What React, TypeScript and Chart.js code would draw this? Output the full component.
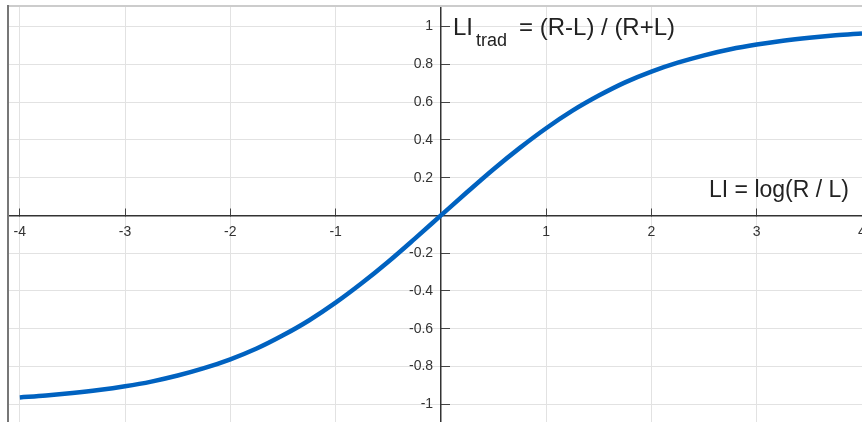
import React, { useEffect, useRef } from "react";
import { Chart, registerables } from "chart.js";

Chart.register(...registerables);

// LI = log(R/L) on the horizontal axis
const liValues = [
  -4, -3.75, -3.5, -3.25, -3, -2.75, -2.5, -2.25, -2, -1.75, -1.5, -1.25, -1, -0.75, -0.5, -0.25,
  0, 0.25, 0.5, 0.75, 1, 1.25, 1.5, 1.75, 2, 2.25, 2.5, 2.75, 3, 3.25, 3.5, 3.75, 4,
];
// LI_trad = (R-L)/(R+L)
const liTradValues = [
  -0.964, -0.954, -0.941, -0.925, -0.905, -0.88, -0.848, -0.809, -0.762, -0.705, -0.635, -0.555,
  -0.462, -0.358, -0.245, -0.124, 0, 0.124, 0.245, 0.358, 0.462, 0.555, 0.635, 0.705, 0.762, 0.809,
  0.848, 0.88, 0.905, 0.925, 0.941, 0.954, 0.964,
];

const xRange = { min: -4.112, max: 4.0 };
const yRange = { min: -1.094, max: 1.104 };

const FONT = "'Liberation Sans', Arial, sans-serif";

const zeroPadding = (scale: any) => {
  scale.paddingLeft = 0;
  scale.paddingRight = 0;
  scale.paddingTop = 0;
  scale.paddingBottom = 0;
};

const framePlugin = {
  id: "frame",
  beforeDraw(chart: any) {
    const { ctx } = chart;
    ctx.save();
    ctx.fillStyle = "#ffffff";
    ctx.fillRect(0, 0, chart.width, chart.height);
    ctx.restore();
  },
  afterDraw(chart: any) {
    const { ctx, chartArea } = chart;
    ctx.save();
    ctx.strokeStyle = "#cccccc";
    ctx.lineWidth = 2;
    ctx.beginPath();
    ctx.moveTo(chartArea.left, chartArea.top - 1);
    ctx.lineTo(chartArea.right, chartArea.top - 1);
    ctx.stroke();
    ctx.strokeStyle = "#777777";
    ctx.beginPath();
    ctx.moveTo(chartArea.left, chartArea.top - 2);
    ctx.lineTo(chartArea.left, chartArea.bottom);
    ctx.stroke();

    // annotations
    ctx.fillStyle = "#222222";
    ctx.textBaseline = "alphabetic";
    ctx.textAlign = "left";
    const x0 = 453;
    const base = 35;
    ctx.font = `24px ${FONT}`;
    ctx.fillText("LI", x0, base);
    const wLI = ctx.measureText("LI").width;
    ctx.font = `18px ${FONT}`;
    ctx.fillText("trad", x0 + wLI + 3, base + 11);
    const wTrad = ctx.measureText("trad").width;
    ctx.font = `24px ${FONT}`;
    ctx.fillText("= (R-L) / (R+L)", x0 + wLI + 3 + wTrad + 12, base);

    ctx.font = `23px ${FONT}`;
    ctx.textAlign = "right";
    ctx.fillText("LI = log(R / L)", 849, 197);
    ctx.restore();
  },
};

export default function App() {
  const canvasRef = useRef<HTMLCanvasElement | null>(null);

  useEffect(() => {
    if (!canvasRef.current) return;
    const chart = new Chart(canvasRef.current, {
      type: "line",
      data: {
        datasets: [
          {
            data: liValues.map((x, i) => ({ x, y: liTradValues[i] })),
            borderColor: "#0062c0",
            borderWidth: 4.5,
            pointRadius: 0,
            cubicInterpolationMode: "monotone",
            fill: false,
          },
        ],
      },
      options: {
        animation: false,
        responsive: false,
        devicePixelRatio: 1,
        layout: { padding: { left: 8, top: 7, right: 0, bottom: 0 } },
        plugins: { legend: { display: false }, tooltip: { enabled: false } },
        scales: {
          x: {
            type: "linear",
            min: xRange.min,
            max: xRange.max,
            position: { y: 0 } as any,
            afterFit: zeroPadding,
            ticks: {
              stepSize: 1,
              includeBounds: false,
              autoSkip: false,
              maxRotation: 0,
              padding: 16,
              color: "#333333",
              font: { family: FONT, size: 14 },
              callback: (v: any) => (Math.abs(v) < 1e-9 ? "" : String(Math.round(v))),
            },
            grid: { color: "#e2e2e2", lineWidth: 1, tickLength: -8, tickColor: "#444444", z: -1 },
            border: { display: true, color: "#333333", width: 1.5 },
          },
          y: {
            type: "linear",
            min: yRange.min,
            max: yRange.max,
            position: { x: 0 } as any,
            afterFit: zeroPadding,
            ticks: {
              stepSize: 0.2,
              includeBounds: false,
              autoSkip: false,
              padding: 8,
              color: "#333333",
              font: { family: FONT, size: 14 },
              callback: (v: any) => {
                const r = Math.round(v * 10) / 10;
                return Math.abs(r) < 1e-9 ? "" : String(r) + "  ";
              },
            },
            grid: { color: "#e2e2e2", lineWidth: 1, tickLength: -10, tickColor: "#444444", z: -1 },
            border: { display: true, color: "#333333", width: 1.5 },
          },
        },
      },
      plugins: [framePlugin],
    });
    return () => chart.destroy();
  }, []);

  return (
    <div style={{ position: "absolute", left: 0, top: 0, width: 862, height: 422 }}>
      <canvas ref={canvasRef} width={862} height={422} style={{ display: "block" }} />
    </div>
  );
}
